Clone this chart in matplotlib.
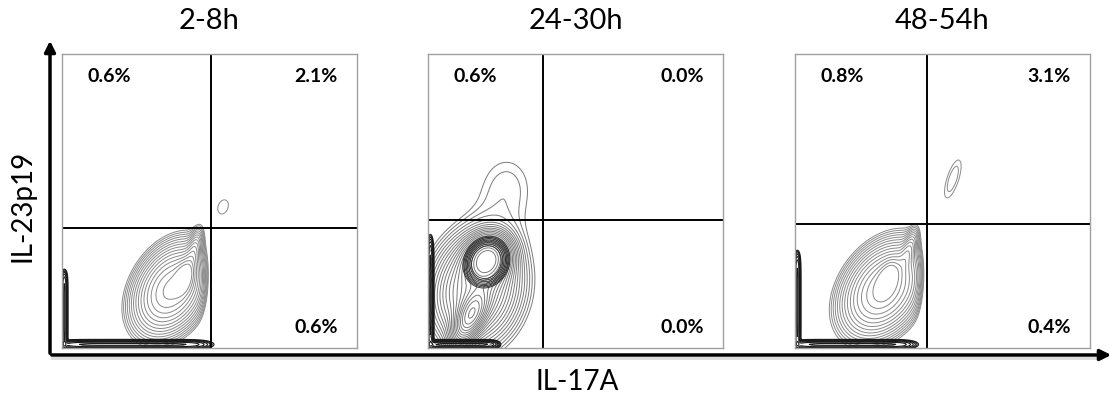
import matplotlib.pyplot as plt
import numpy as np

plt.rcParams['font.family'] = ['Lato', 'DejaVu Sans']

# panels / gates (axis units 0-1000, like flow channels)
titles = ["2-8h", "24-30h", "48-54h"]
gate_x = [505, 389, 447]
gate_y = [408, 437, 422]

pct_ul = ["0.6%", "0.6%", "0.8%"]
pct_ur = ["2.1%", "0.0%", "3.1%"]
pct_lr = ["0.6%", "0.0%", "0.4%"]

# population blobs: (cx, cy, s_major, s_minor, angle, weight)
# first three of each panel = main population, the rest = separate events
blobs_1 = [(370, 200, 85, 58, 60, 1.0),
           (415, 240, 35, 18, 75, 0.8),
           (448, 330, 45, 14, 75, 0.25),
           (546, 480, 41, 28, 70, 0.048)]
blobs_2 = [(200, 300, 45, 38, 60, 1.0),
           (145, 110, 55, 25, 65, 0.7),
           (160, 200, 100, 75, 75, 0.35),
           (170, 200, 170, 140, 80, 0.06),
           (268, 560, 115, 95, 90, 0.04)]
blobs_3 = [(300, 200, 90, 62, 55, 1.0),
           (315, 235, 35, 18, 70, 0.8),
           (385, 330, 45, 14, 70, 0.25),
           (535, 575, 75, 22, 72, 0.06)]
all_blobs = [blobs_1, blobs_2, blobs_3]

# dark ring round the upper 24-30h peak
ring_2 = (198, 292, 42, 36, 65, 1.0)

# sharp right edge of the main population
cut_x = [485, 1000, 425]

# events piled on the axes: extent along bottom and left edges
bottom_end = [480, 230, 390]
left_end = [250, 360, 310]

# figure geometry in pixels (1110 x 397)
panel_left = [62, 428, 795]
panel_w = 295
panel_bottom = 49
panel_h = 294

fig = plt.figure(figsize=(11.1, 3.97), dpi=100)

g = np.linspace(0, 1000, 400)
X, Y = np.meshgrid(g, g)


def blob(cx, cy, sx, sy, ang, w):
    a = np.radians(ang)
    dx, dy = X - cx, Y - cy
    u = dx * np.cos(a) + dy * np.sin(a)
    v = -dx * np.sin(a) + dy * np.cos(a)
    return w * np.exp(-0.5 * (u / sx) ** 2 - 0.5 * (v / sy) ** 2)


for i in range(3):
    ax = fig.add_axes([panel_left[i] / 1110, panel_bottom / 397, panel_w / 1110, panel_h / 397])
    b = all_blobs[i]
    main = sum(blob(*p) for p in b[:3]) / (1 + np.exp((X - cut_x[i]) / 10))
    Z = main + sum(blob(*p) for p in b[3:])
    if i == 1:
        lv = np.geomspace(0.035, 0.95, 22)
        ax.contour(X, Y, Z, levels=lv, colors='#7a7a7a', linewidths=0.7)
        ax.contour(X, Y, blob(*ring_2), levels=np.geomspace(0.1, 0.4, 8),
                   colors='#262626', linewidths=0.6)
    else:
        lv = np.geomspace(0.04, 0.92, 15)
        ax.contour(X, Y, Z, levels=lv, colors='#8a8a8a', linewidths=0.7)

    # edge events
    E = np.exp(-((X - bottom_end[i] / 2) / (bottom_end[i] / 2)) ** 8) * np.exp(-0.5 * ((Y - 12) / 7) ** 2)
    E += np.exp(-((Y - left_end[i] / 2) / (left_end[i] / 2)) ** 8) * np.exp(-0.5 * ((X - 8) / 5) ** 2)
    ax.contour(X, Y, E, levels=np.geomspace(0.05, 0.9, 7), colors='#1a1a1a', linewidths=0.8)

    ax.axvline(gate_x[i], color='black', lw=1.4)
    ax.axhline(gate_y[i], color='black', lw=1.4)
    ax.set_xlim(0, 1000)
    ax.set_ylim(0, 1000)
    ax.set_xticks([])
    ax.set_yticks([])
    for s in ax.spines.values():
        s.set_color('#a0a0a0')
        s.set_linewidth(1.0)

    ax.text(0.16, 0.925, pct_ul[i], transform=ax.transAxes, ha='center', va='center',
            fontsize=14, fontweight='bold')
    ax.text(0.935, 0.925, pct_ur[i], transform=ax.transAxes, ha='right', va='center',
            fontsize=14, fontweight='bold')
    ax.text(0.935, 0.07, pct_lr[i], transform=ax.transAxes, ha='right', va='center',
            fontsize=14, fontweight='bold')

    fig.text((panel_left[i] + panel_w / 2) / 1110, 1 - 21 / 397, titles[i],
             ha='center', va='center', fontsize=21)

# big axis arrows
bg = fig.add_axes([0, 0, 1, 1], zorder=-1)
bg.set_xlim(0, 1110)
bg.set_ylim(397, 0)
bg.axis('off')
bg.plot([52, 1100], [358, 358], color='#dcdcdc', lw=2)
bg.annotate('', xy=(1114, 355), xytext=(49, 355), annotation_clip=False,
            arrowprops=dict(arrowstyle='-|>', lw=2.5, color='black', mutation_scale=16))
bg.annotate('', xy=(50, 38), xytext=(50, 356), annotation_clip=False,
            arrowprops=dict(arrowstyle='-|>', lw=2.5, color='black', mutation_scale=16))

fig.text(577 / 1110, 1 - 382 / 397, "IL-17A", ha='center', va='center', fontsize=20)
fig.text(22 / 1110, 1 - 206 / 397, "IL-23p19", ha='center', va='center', fontsize=20, rotation=90)

plt.savefig("out.png", dpi=100)
